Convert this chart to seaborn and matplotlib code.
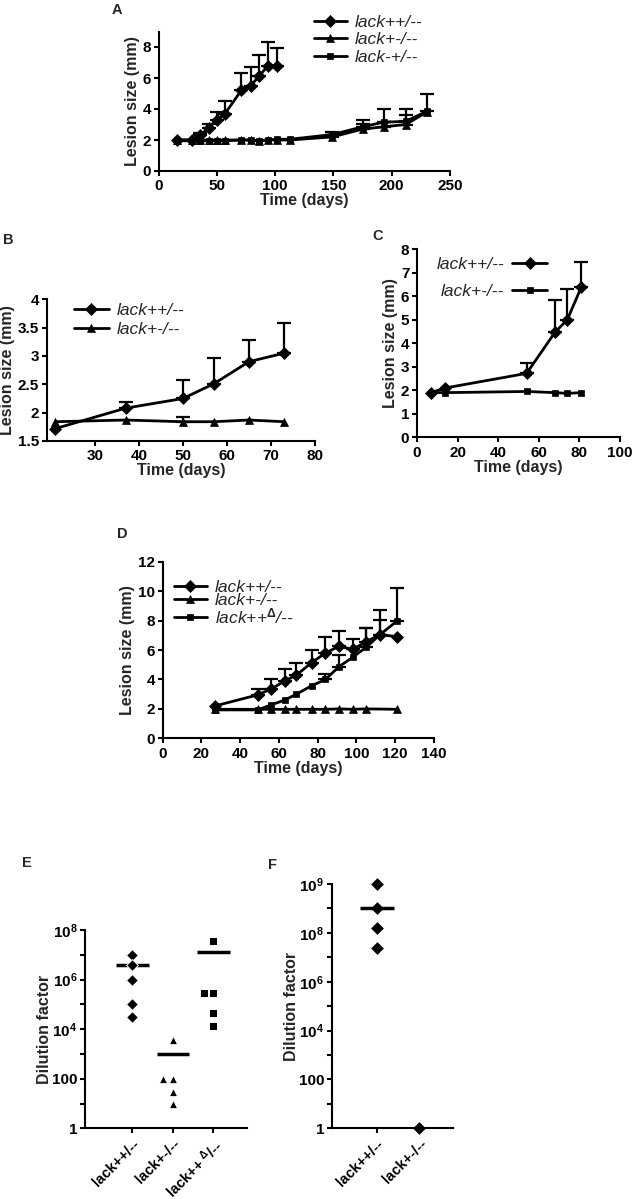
import numpy as np
import pandas as pd
import matplotlib
matplotlib.use('Agg')
import matplotlib.pyplot as plt
import seaborn as sns

# ---- data ----
# A
a_days_wt = [16, 29, 36, 43, 50, 57, 71, 79, 86, 94, 102]
a_wt = [2.0, 2.0, 2.3, 2.8, 3.3, 3.7, 5.2, 5.5, 6.1, 6.8, 6.8]
a_wt_err = [0.0, 0.0, 0.15, 0.25, 0.5, 0.8, 1.1, 1.2, 1.4, 1.5, 1.15]
a_days_mut = [16, 29, 36, 43, 50, 57, 71, 79, 86, 94, 102, 113, 149, 175, 193, 212, 230]
a_tri = [2.0, 2.0, 2.0, 2.0, 2.0, 2.0, 2.0, 2.0, 1.95, 2.0, 2.0, 2.0, 2.2, 2.7, 2.85, 3.0, 3.8]
a_tri_err = [0, 0, 0, 0, 0, 0, 0, 0, 0, 0, 0, 0, 0.1, 0.35, 0.3, 0.6, 0.0]
a_sq = [1.95, 1.95, 1.95, 1.95, 1.95, 1.95, 2.0, 2.0, 1.95, 2.0, 2.05, 2.05, 2.35, 2.85, 3.15, 3.2, 3.85]
a_sq_err = [0, 0, 0, 0, 0, 0, 0, 0, 0, 0, 0, 0, 0.15, 0.45, 0.85, 0.8, 1.15]
a_labels = ['lack++/--', 'lack+-/--', 'lack-+/--']

# B
b_days = [21, 37, 50, 57, 65, 73]
b_wt = [1.72, 2.08, 2.25, 2.51, 2.9, 3.05]
b_wt_err = [0.0, 0.1, 0.32, 0.45, 0.39, 0.53]
b_mut = [1.84, 1.87, 1.84, 1.84, 1.87, 1.84]
b_mut_err = [0.0, 0.0, 0.09, 0.0, 0.0, 0.0]
b_labels = ['lack++/--', 'lack+-/--']
b_yticks = [1.5, 2, 2.5, 3, 3.5, 4]
b_yticklabels = ['1.5', '2', '2.5', '3', '3.5', '4']

# C
c_days = [7, 14, 54, 68, 74, 81]
c_wt = [1.9, 2.1, 2.72, 4.47, 5.0, 6.4]
c_wt_err = [0.0, 0.0, 0.45, 1.36, 1.3, 1.07]
c_mut = [1.9, 1.9, 1.95, 1.9, 1.87, 1.9]
c_labels = ['lack++/--', 'lack+-/--']

# D
d_days = [27, 49, 56, 63, 69, 77, 84, 91, 98, 105, 112, 121]
d_wt = [2.2, 2.95, 3.35, 3.9, 4.3, 5.15, 5.8, 6.25, 6.05, 6.55, 7.05, 6.9]
d_wt_err = [0.0, 0.4, 0.65, 0.8, 0.85, 0.85, 1.05, 1.05, 0.7, 0.95, 1.65, 0.0]
d_days_mut = [27, 49, 56, 63, 69, 77, 84, 91, 98, 105, 121]
d_mut = [1.97, 1.97, 1.97, 1.97, 1.97, 1.97, 1.97, 2.0, 1.97, 2.0, 1.97]
d_del = [1.93, 1.93, 2.27, 2.6, 3.0, 3.58, 4.0, 4.87, 5.5, 6.19, 7.03, 7.98]
d_del_err = [0.0, 0.0, 0.0, 0.0, 0.0, 0.0, 0.35, 0.8, 0.0, 1.3, 1.0, 2.2]
d_labels = ['lack++/--', 'lack+-/--', r'lack++$^{\Delta}$/--']

# E
e_groups = ['lack++/--', 'lack+-/--', 'lack++ D/--']
e_ticklabels = ['lack++/--', 'lack+-/--', r'lack++ $^{\Delta}$/--']
e_wt = [1e7, 4e6, 1e6, 1e5, 3e4]
e_mut = [3.5e3, 100, 100, 30, 10]
e_del = [3.7e7, 2.8e5, 2.8e5, 4.6e4, 1.4e4]
e_mean = [3.9e6, 1e3, 1.35e7]
e_yticks = [1, 10, 100, 1e3, 1e4, 1e5, 1e6, 1e7, 1e8]
e_yticklabels = ['1', '', '100', '', r'$\mathbf{10^4}$', '', r'$\mathbf{10^6}$', '', r'$\mathbf{10^8}$']

# F
f_groups = ['lack++/--', 'lack+-/--']
f_wt = [1e9, 3.2e8, 1.26e8, 2.3e7]
f_mut = [1]
f_mean = [3.2e8]
f_yticks = [1, 10, 100, 1e3, 1e4, 1e5, 1e6, 1e7, 1e8, 10 ** 8.5, 1e9]
f_yticklabels = ['1', '', '100', '', r'$\mathbf{10^4}$', '', r'$\mathbf{10^6}$', '',
                 r'$\mathbf{10^8}$', '', r'$\mathbf{10^9}$']

# ---- style ----
sns.set_style('ticks')
plt.rcParams['font.family'] = ['Liberation Sans', 'DejaVu Sans']
plt.rcParams['font.weight'] = 'bold'
plt.rcParams['axes.labelweight'] = 'bold'
plt.rcParams['mathtext.fontset'] = 'custom'
plt.rcParams['mathtext.rm'] = 'Liberation Sans'
plt.rcParams['mathtext.it'] = 'Liberation Sans:italic'
plt.rcParams['mathtext.bf'] = 'Liberation Sans:bold'
plt.rcParams['axes.linewidth'] = 1.5
plt.rcParams['xtick.major.width'] = 1.5
plt.rcParams['ytick.major.width'] = 1.5
plt.rcParams['xtick.major.size'] = 3.5
plt.rcParams['ytick.major.size'] = 3.5
plt.rcParams['xtick.major.pad'] = 2.5
plt.rcParams['ytick.major.pad'] = 2
plt.rcParams['xtick.labelsize'] = 11
plt.rcParams['ytick.labelsize'] = 11
plt.rcParams['xtick.color'] = 'black'
plt.rcParams['ytick.color'] = 'black'
plt.rcParams['axes.edgecolor'] = 'black'

W, H = 641, 1199
fig = plt.figure(figsize=(W / 100, H / 100), dpi=100)


def make_ax(left, right, top, bottom):
    return fig.add_axes([left / W, 1 - bottom / H, (right - left) / W, (bottom - top) / H])


LEG = dict(frameon=False, borderpad=0, borderaxespad=0, handletextpad=0.45,
           prop={'style': 'italic', 'weight': 'normal', 'size': 12.5})


def series(ax, x, y, err, marker, ms, label):
    sns.lineplot(x=x, y=y, marker=marker, markersize=ms, color='black', lw=2,
                 mec='black', mew=0.5, label=label, ax=ax)
    e = np.array(err, dtype=float)
    keep = e > 0
    if keep.any():
        xx = np.array(x)[keep]
        yy = np.array(y)[keep]
        ax.errorbar(xx, yy, yerr=[np.zeros(keep.sum()), e[keep]], fmt='none',
                    ecolor='black', elinewidth=1.6, capsize=5, capthick=1.6)


def finish(ax):
    sns.despine(ax=ax)
    ax.set_xlabel('Time (days)', fontsize=11.5, labelpad=0)
    ax.set_ylabel('Lesion size (mm)', fontsize=11.5, labelpad=2)


# ---- A ----
ax = make_ax(158.5, 450, 31.5, 171)
series(ax, a_days_wt, a_wt, a_wt_err, 'D', 6, a_labels[0])
series(ax, a_days_mut, a_tri, a_tri_err, '^', 5.5, a_labels[1])
series(ax, a_days_mut, a_sq, a_sq_err, 's', 5, a_labels[2])
ax.set_xlim(0, 250)
ax.set_ylim(0, 9)
ax.set_xticks([0, 50, 100, 150, 200, 250])
ax.set_yticks([0, 2, 4, 6, 8])
finish(ax)
ax.legend(loc='upper left', bbox_to_anchor=(314 / W, 1 - 15 / H), bbox_transform=fig.transFigure,
          handlelength=1.9, labelspacing=0.12, **LEG)
fig.text(112 / W, 1 - 10 / H, 'A', fontsize=10.5, fontweight='bold', va='center')

# ---- B ----
ax = make_ax(46.7, 315, 299.3, 441)
series(ax, b_days, b_wt, b_wt_err, 'D', 6, b_labels[0])
series(ax, b_days, b_mut, b_mut_err, '^', 5.5, b_labels[1])
ax.set_xlim(19, 80)
ax.set_ylim(1.5, 4)
ax.set_xticks([30, 40, 50, 60, 70, 80])
ax.set_yticks(b_yticks)
ax.set_yticklabels(b_yticklabels)
finish(ax)
ax.legend(loc='upper left', bbox_to_anchor=(74 / W, 1 - 303 / H), bbox_transform=fig.transFigure,
          handlelength=2.0, labelspacing=0.22, **LEG)
fig.text(3 / W, 1 - 240 / H, 'B', fontsize=10.5, fontweight='bold', va='center')

# ---- C ----
ax = make_ax(417, 620, 249.3, 437.3)
series(ax, c_days, c_wt, c_wt_err, 'D', 6, c_labels[0])
series(ax, c_days, c_mut, [0] * len(c_mut), 's', 5, c_labels[1])
ax.set_xlim(0, 100)
ax.set_ylim(0, 8)
ax.set_xticks([0, 20, 40, 60, 80, 100])
ax.set_yticks([0, 1, 2, 3, 4, 5, 6, 7, 8])
finish(ax)
ax.legend(loc='upper right', bbox_to_anchor=(547 / W, 1 - 257 / H), bbox_transform=fig.transFigure,
          handlelength=2.0, labelspacing=0.65, markerfirst=False, **LEG)
fig.text(372 / W, 1 - 236 / H, 'C', fontsize=10.5, fontweight='bold', va='center')

# ---- D ----
ax = make_ax(162.7, 434, 561.7, 738.3)
series(ax, d_days, d_wt, d_wt_err, 'D', 6, d_labels[0])
series(ax, d_days_mut, d_mut, [0] * len(d_mut), '^', 5.5, d_labels[1])
series(ax, d_days, d_del, d_del_err, 's', 5, d_labels[2])
ax.set_xlim(0, 140)
ax.set_ylim(0, 12)
ax.set_xticks([0, 20, 40, 60, 80, 100, 120, 140])
ax.set_yticks([0, 2, 4, 6, 8, 10, 12])
finish(ax)
ax.legend(loc='upper left', bbox_to_anchor=(174 / W, 1 - 580 / H), bbox_transform=fig.transFigure,
          handlelength=1.9, labelspacing=-0.12, **LEG)
fig.text(117 / W, 1 - 534 / H, 'D', fontsize=10.5, fontweight='bold', va='center')

# ---- E ----
ax = make_ax(85, 246.7, 930, 1128.3)
e_df = pd.DataFrame({
    'group': [e_groups[0]] * len(e_wt) + [e_groups[1]] * len(e_mut) + [e_groups[2]] * len(e_del),
    'value': e_wt + e_mut + e_del,
})
for g, m, s in zip(e_groups, ['D', '^', 's'], [6, 6, 6]):
    sns.swarmplot(data=e_df[e_df['group'] == g], x='group', y='value', order=e_groups,
                  marker=m, color='black', size=s, edgecolor='white', linewidth=0.7,
                  log_scale=True, ax=ax)
ax.hlines(e_mean, np.arange(len(e_groups)) - 0.4, np.arange(len(e_groups)) + 0.4,
          color='black', lw=2.5)
ax.set_xlim(-1.17, 2.82)
ax.set_ylim(1, 1e8)
ax.set_yticks(e_yticks)
ax.set_yticklabels(e_yticklabels)
ax.minorticks_off()
ax.set_xticks(range(len(e_groups)))
ax.set_xticklabels(e_ticklabels, rotation=45, ha='right', rotation_mode='anchor', fontsize=10.5)
ax.set_xlabel('')
ax.set_ylabel('Dilution factor', fontsize=11.5, labelpad=0)
sns.despine(ax=ax)
fig.text(22 / W, 1 - 863 / H, 'E', fontsize=10.5, fontweight='bold', va='center')


# ---- F ----
def f_fwd(y):
    l = np.log10(np.clip(y, 1e-3, None))
    return np.where(l > 8, 8 + 2 * (l - 8), l)


def f_inv(v):
    return np.where(v > 8, 10 ** (8 + (v - 8) / 2), 10.0 ** v)


ax = make_ax(331.7, 452.7, 884, 1128.3)
f_df = pd.DataFrame({
    'group': [f_groups[0]] * len(f_wt) + [f_groups[1]] * len(f_mut),
    'value': f_wt + f_mut,
})
sns.stripplot(data=f_df, x='group', y='value', order=f_groups, jitter=False, marker='D',
              color='black', size=6.5, clip_on=False, zorder=5, ax=ax)
ax.hlines(f_mean, np.arange(len(f_mean)) - 0.4, np.arange(len(f_mean)) + 0.4,
          color='black', lw=2.5)
ax.set_yscale('function', functions=(f_fwd, f_inv))
ax.set_xlim(-1.056, 1.78)
ax.set_ylim(1, 1e9)
ax.set_yticks(f_yticks)
ax.set_yticklabels(f_yticklabels)
ax.minorticks_off()
ax.set_xticks(range(len(f_groups)))
ax.set_xticklabels(f_groups, rotation=45, ha='right', rotation_mode='anchor', fontsize=10.5)
ax.set_xlabel('')
ax.set_ylabel('Dilution factor', fontsize=11.5, labelpad=0)
sns.despine(ax=ax)
fig.text(268 / W, 1 - 865 / H, 'F', fontsize=10.5, fontweight='bold', va='center')

fig.savefig('out.png', dpi=100)
